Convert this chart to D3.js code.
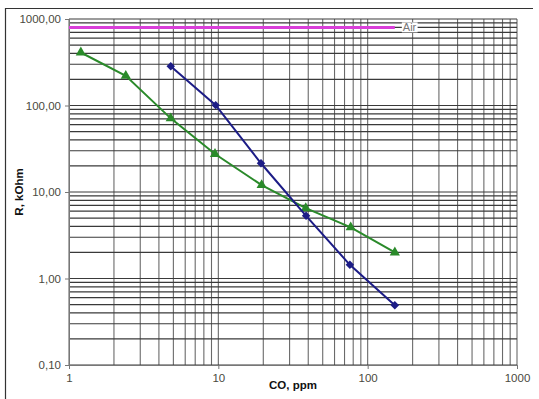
<!DOCTYPE html>
<html><head><meta charset="utf-8">
<script src="https://cdn.jsdelivr.net/npm/d3@7"></script>
<style>body{margin:0;background:#fff}svg{display:block}</style>
</head><body>
<script>
const greenX = [1.2, 2.4, 4.8, 9.5, 19.5, 38.5, 77, 152];
const greenY = [410, 220, 71, 27.5, 12, 6.5, 3.9, 2.0];
const blueX = [4.8, 9.6, 19.3, 38.7, 76, 152];
const blueY = [285, 101, 21.5, 5.3, 1.44, 0.49];
const airX = [1, 152];
const airY = [800, 800];
const xTicks = [1, 10, 100, 1000];
const yTicks = [0.1, 1, 10, 100, 1000];
const xTickLabels = ["1", "10", "100", "1000"];
const yTickLabels = ["0,10", "1,00", "10,00", "100,00", "1000,00"];

const W = 539, H = 399;
const svg = d3.select("body").append("svg").attr("width", W).attr("height", H);
const L = 69, R = 517, T = 19, B = 365;
const x = d3.scaleLog().domain([1, 1000]).range([L, R]);
const y = d3.scaleLog().domain([0.1, 1000]).range([B, T]);

// outer frame (top + left)
svg.append("path").attr("d", `M5.5,${H}V8.5H533`).attr("fill", "none").attr("stroke", "#333").attr("stroke-width", 1.2);

// grid values
const xg = [], yg = [];
for (let d = 1; d < 1000; d *= 10) for (let k = 1; k <= 9; k++) xg.push(d * k);
xg.push(1000);
for (let d = 0.1; d < 999; d *= 10) for (let k = 1; k <= 9; k++) yg.push(+(d * k).toPrecision(3));
yg.push(1000);

const g = svg.append("g");
g.selectAll("line.v").data(xg).join("line")
  .attr("x1", d => x(d)).attr("x2", d => x(d)).attr("y1", T).attr("y2", B)
  .attr("stroke", "#6a6a6a").attr("stroke-width", 1.1);
g.selectAll("line.h").data(yg).join("line")
  .attr("y1", d => y(d)).attr("y2", d => y(d)).attr("x1", L).attr("x2", R)
  .attr("stroke", "#3a3a3a").attr("stroke-width", 1.2);

// axes
const yAxis = d3.axisLeft(y).tickValues(yTicks).tickSize(4).tickPadding(4)
  .tickFormat((d, i) => yTickLabels[i]);
const ya = svg.append("g").attr("transform", `translate(${L},0)`).call(yAxis);
const xAxis = d3.axisBottom(x).tickValues(xTicks).tickSize(4).tickPadding(5)
  .tickFormat((d, i) => xTickLabels[i]);
const xa = svg.append("g").attr("transform", `translate(0,${B})`).call(xAxis);
[ya, xa].forEach(a => {
  a.select(".domain").attr("stroke", "#777");
  a.selectAll(".tick line").attr("stroke", "#777");
  a.selectAll("text").attr("fill", "#4a4a40").attr("font-family", "Liberation Sans, Arial, sans-serif").attr("font-size", 11.5);
});

// axis titles
svg.append("text").attr("x", 293).attr("y", 389).attr("text-anchor", "middle")
  .attr("font-family", "Liberation Sans, Arial, sans-serif").attr("font-size", 11.5).attr("font-weight", "bold")
  .attr("fill", "#111").text("CO, ppm");
svg.append("text").attr("transform", "translate(23,192) rotate(-90)").attr("text-anchor", "middle")
  .attr("font-family", "Liberation Sans, Arial, sans-serif").attr("font-size", 11.5).attr("font-weight", "bold")
  .attr("fill", "#111").text("R, kOhm");

const line = d3.line().x(d => x(d[0])).y(d => y(d[1]));

// Air line
const air = airX.map((v, i) => [v, airY[i]]);
svg.append("path").datum(air).attr("d", line).attr("stroke", "#d93fd9").attr("stroke-width", 3).attr("fill", "none");
const airBg = svg.append("rect").attr("fill", "#fff");
const airLbl = svg.append("text").attr("x", x(airX[1]) + 8).attr("y", y(airY[1]) + 4)
  .attr("font-family", "Liberation Sans, Arial, sans-serif").attr("font-size", 11).attr("fill", "#777").text("Air");
const bb = airLbl.node().getBBox();
airBg.attr("x", bb.x - 1).attr("y", bb.y + 1).attr("width", bb.width + 2).attr("height", bb.height - 2);

// green series
const gData = greenX.map((v, i) => [v, greenY[i]]);
svg.append("path").datum(gData).attr("d", line).attr("stroke", "#2a8a2a").attr("stroke-width", 2).attr("fill", "none");
svg.selectAll("path.tri").data(gData).join("path").attr("class", "tri")
  .attr("d", d3.symbol().type(d3.symbolTriangle).size(45))
  .attr("transform", d => `translate(${x(d[0])},${y(d[1])})`).attr("fill", "#2a8a2a");

// blue series
const bData = blueX.map((v, i) => [v, blueY[i]]);
svg.append("path").datum(bData).attr("d", line).attr("stroke", "#1c1c86").attr("stroke-width", 2).attr("fill", "none");
svg.selectAll("path.dia").data(bData).join("path").attr("class", "dia")
  .attr("d", d3.symbol().type(d3.symbolSquare).size(36))
  .attr("transform", d => `translate(${x(d[0])},${y(d[1])}) rotate(45)`).attr("fill", "#1c1c86");
</script>
</body></html>
